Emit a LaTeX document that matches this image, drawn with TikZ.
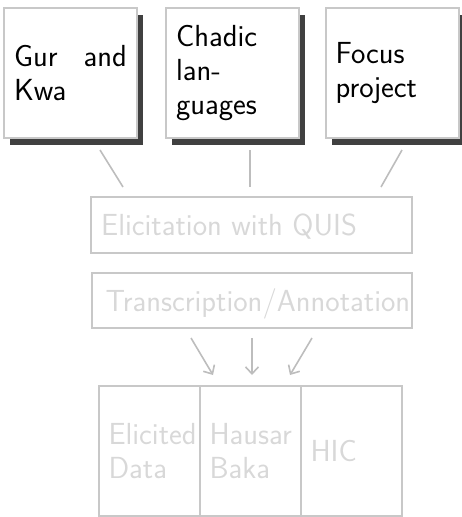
\documentclass[tikz,border=0pt]{standalone}
\usepackage{fontspec}
\usetikzlibrary{shadows,arrows.meta}
\definecolor{boxline}{HTML}{C8C8C8}
\definecolor{shadowgray}{HTML}{404040}
\definecolor{linkgray}{HTML}{BDBDBD}
\definecolor{fadetext}{HTML}{D8D8D8}
\begin{document}
\begin{tikzpicture}[x=1pt,y=-1pt,
  font=\sffamily\fontsize{30.5}{34}\selectfont,
  source/.style={draw=boxline,line width=2pt,fill=white,
    minimum width=133pt,minimum height=130pt,text width=113pt,
    inner xsep=10pt,align=left,
    general shadow={fill=shadowgray,shadow xshift=6pt,shadow yshift=-7pt}},
  stage/.style={draw=boxline,line width=2pt,minimum height=56pt},
  stagetext/.style={text=fadetext,anchor=base west,inner sep=0pt},
  store/.style={draw=boxline,line width=2pt,minimum width=101pt,
    minimum height=130pt,text width=81pt,inner xsep=10pt,
    align=left,text=fadetext},
  link/.style={draw=linkgray,line width=1.6pt},
  flow/.style={link,-{Straight Barb[length=7pt,width=13pt]}}]
\useasboundingbox (0,0) rectangle (462,517);

% sources
\node[source] (gur) at (70.5,73) {Gur\hfill and\\Kwa};
\node[source] (chadic) at (232.5,73) {Chadic\\lan-\\guages};
\node[source] (focus) at (392,73) {Focus\\project};

% processing stages
\node[stage,minimum width=321pt] (elicit) at (251.5,225) {};
\node[stagetext] at (101,235) {Elicitation with QUIS};
\node[stage,minimum width=320pt,minimum height=55pt] (transcr) at (252,300.5) {};
\node[stagetext] at (105.5,311) {Transcription/Annotation};

% resulting corpora
\node[store] (data) at (149,451) {Elicited\\Data};
\node[store] (hausar) at (250,451) {Hausar\\Baka};
\node[store] (hic) at (351,451) {HIC};

% links from sources to elicitation
\coordinate (g1) at (100,150); \coordinate (g2) at (123,187);
\coordinate (c1) at (250,150); \coordinate (c2) at (250,187);
\coordinate (f1) at (402,150); \coordinate (f2) at (381,187);
\draw[link] (g1) -- (g2);
\draw[link] (c1) -- (c2);
\draw[link] (f1) -- (f2);

% arrows into the corpora
\coordinate (a1) at (191,338); \coordinate (a2) at (213,375);
\coordinate (b1) at (252,338); \coordinate (b2) at (252,375);
\coordinate (d1) at (312,338); \coordinate (d2) at (290,375);
\draw[flow] (a1) -- (a2);
\draw[flow] (b1) -- (b2);
\draw[flow] (d1) -- (d2);
\end{tikzpicture}
\end{document}
